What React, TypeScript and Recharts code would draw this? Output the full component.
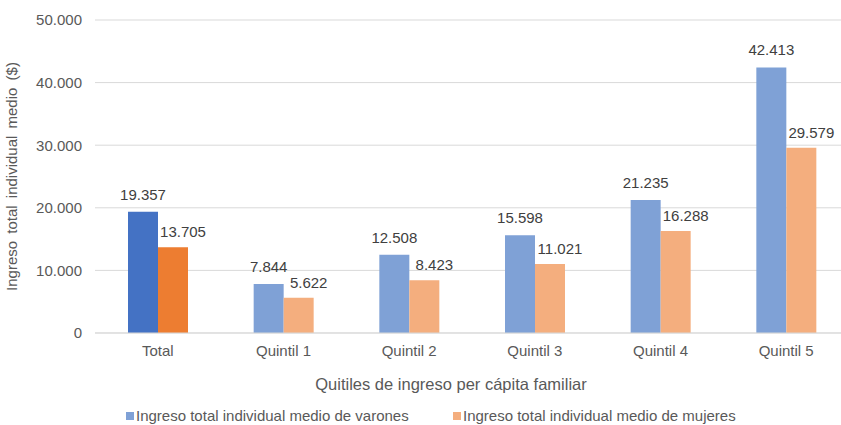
import React from "react"
import {
    BarChart,
    Bar,
    XAxis,
    YAxis,
    CartesianGrid,
    LabelList,
    Label,
    Cell
} from "recharts"

const categories = ["Total", "Quintil 1", "Quintil 2", "Quintil 3", "Quintil 4", "Quintil 5"]
const varones = [19357, 7844, 12508, 15598, 21235, 42413]
const mujeres = [13705, 5622, 8423, 11021, 16288, 29579]
const yTicks = [0, 10000, 20000, 30000, 40000, 50000]

const varonesName = "Ingreso total individual medio de varones"
const mujeresName = "Ingreso total individual medio de mujeres"

const blueTotal = "#4472C4"
const orangeTotal = "#ED7D31"
const blueLight = "#7FA1D6"
const orangeLight = "#F4AE7E"

const textColor = "#595959"
const font = "'Liberation Sans', Arial, sans-serif"

const data = categories.map((c, i) => ({
    name: c,
    varones: varones[i],
    mujeres: mujeres[i]
}))

// thousands separator with a dot, as in the source
const fmt = (v: number) => {
    const s = String(Math.round(v))
    return s.replace(/\B(?=(\d{3})+(?!\d))/g, ".")
}

const BlueLabel = (props: any) => {
    const { x, y, width, value } = props
    return (
        <text
            x={x + width / 2}
            y={y - 12}
            textAnchor="middle"
            fill="#404040"
            fontSize={15}
            fontFamily={font}
        >
            {fmt(value)}
        </text>
    )
}

const OrangeLabel = (props: any) => {
    const { x, y, width, value } = props
    return (
        <text
            x={x + width / 2 + 10}
            y={y - 10}
            textAnchor="middle"
            fill="#404040"
            fontSize={15}
            fontFamily={font}
        >
            {fmt(value)}
        </text>
    )
}

const LegendItem = ({ left, color, text }: { left: number; color: string; text: string }) => (
    <div style={{ position: "absolute", left, top: 407, height: 18, display: "flex", alignItems: "center" }}>
        <span style={{ width: 8, height: 8, background: color, display: "inline-block", marginRight: 2 }} />
        <span
            style={{
                whiteSpace: "nowrap",
                fontFamily: font,
                fontSize: 15,
                lineHeight: "18px",
                color: textColor
            }}
        >
            {text}
        </span>
    </div>
)

export default function App() {
    return (
        <div style={{ position: "absolute", left: 0, top: 0, width: 841, height: 425, background: "#fff", overflow: "hidden" }}>
            <BarChart
                width={841}
                height={425}
                data={data}
                margin={{ top: 20, right: -8, left: 0, bottom: 42 }}
                barGap={0}
                barSize={30}
            >
                <CartesianGrid vertical={false} stroke="#d9d9d9" strokeWidth={1} />
                <XAxis
                    dataKey="name"
                    height={50}
                    axisLine={{ stroke: "#d9d9d9" }}
                    tickLine={false}
                    tick={{ fill: textColor, fontSize: 15, fontFamily: font }}
                    dy={4}
                >
                    <Label
                        value="Quitiles de ingreso per cápita familiar"
                        position="insideBottom"
                        offset={-7}
                        dx={-21}
                        fill={textColor}
                        fontSize={16.5}
                        fontFamily={font}
                    />
                </XAxis>
                <YAxis
                    width={95}
                    domain={[0, 50000]}
                    ticks={yTicks}
                    axisLine={false}
                    tickLine={false}
                    tickFormatter={fmt}
                    tick={{ fill: textColor, fontSize: 15, fontFamily: font }}
                    dx={-5}
                >
                    <Label
                        value="Ingreso total individual medio ($)"
                        angle={-90}
                        position="insideLeft"
                        offset={12}
                        style={{ textAnchor: "middle", wordSpacing: 3 }}
                        fill={textColor}
                        fontSize={15}
                        fontFamily={font}
                    />
                </YAxis>
                <Bar dataKey="varones" name={varonesName} fill={blueLight} isAnimationActive={false}>
                    {data.map((d, i) => (
                        <Cell key={d.name} fill={i === 0 ? blueTotal : blueLight} />
                    ))}
                    <LabelList dataKey="varones" content={<BlueLabel />} />
                </Bar>
                <Bar dataKey="mujeres" name={mujeresName} fill={orangeLight} isAnimationActive={false}>
                    {data.map((d, i) => (
                        <Cell key={d.name} fill={i === 0 ? orangeTotal : orangeLight} />
                    ))}
                    <LabelList dataKey="mujeres" content={<OrangeLabel />} />
                </Bar>
            </BarChart>
            <LegendItem left={126} color={blueLight} text={varonesName} />
            <LegendItem left={453} color={orangeLight} text={mujeresName} />
        </div>
    )
}
